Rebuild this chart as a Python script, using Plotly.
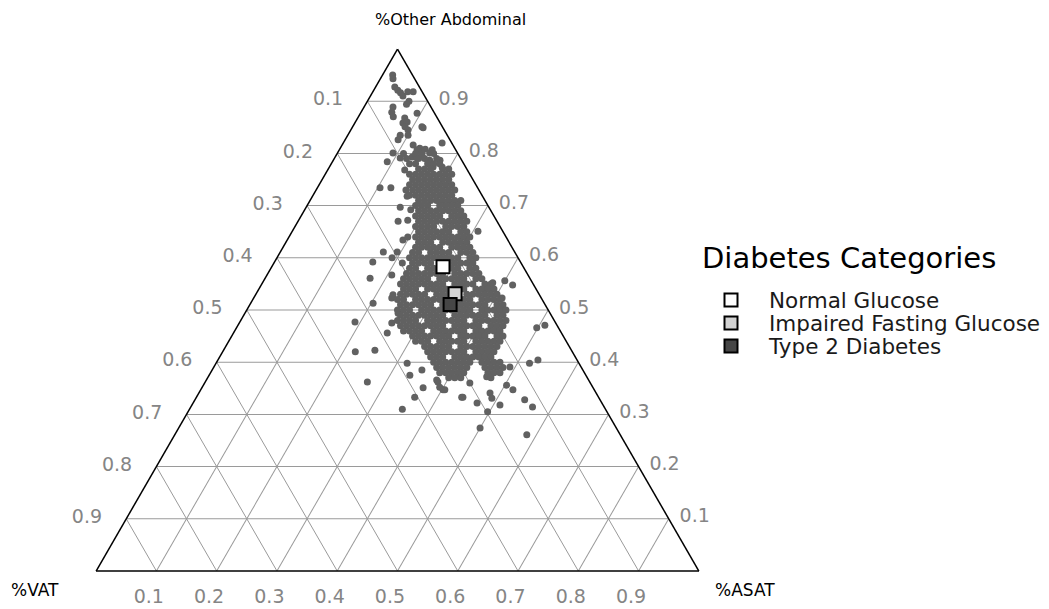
import plotly.graph_objects as go

# ---- individual (scattered) subjects: % Other abdominal, % ASAT ----
scatter_other = [95.0, 94.3, 92.7, 92.1, 91.6, 91.0, 91.8, 91.8, 90.0, 89.4,
                 88.9, 87.9, 87.0, 86.8, 85.8, 86.0, 84.9, 84.5, 83.5, 82.6,
                 81.6, 81.0, 80.7, 80.8, 80.7, 82.0, 80.1, 79.1, 79.3, 79.1,
                 79.7, 78.7, 78.7, 77.4, 77.4, 78.4, 76.8, 87.7, 85.1, 85.1,
                 83.5, 80.1,
                 73.4, 73.4, 73.0, 71.8, 69.7, 69.2, 67.0, 67.2, 63.4, 64.0,
                 61.1, 61.1, 59.2, 60.0, 59.0, 56.1, 56.7, 52.9,
                 52.3, 51.3, 47.7, 45.6, 47.5, 49.4, 42.0, 42.3, 39.8, 37.5,
                 38.5, 36.2, 35.1, 33.3, 36.2, 34.7, 31.0, 33.3,
                 65.1, 55.2, 55.6, 54.8, 52.3, 46.6, 40.4, 39.8, 39.1, 35.6,
                 34.7, 32.8, 31.4, 31.8, 34.1, 33.1, 30.5, 32.2, 33.3, 34.7,
                 36.6, 35.2, 27.4, 26.1, 36.0, 37.2, 47.1]
scatter_asat = [1.7, 2.1, 3.2, 4.0, 4.7, 5.4, 5.8, 6.7, 6.9, 6.8,
                4.8, 5.1, 5.8, 7.8, 8.0, 8.6, 11.8, 9.5, 8.7, 8.8,
                11.8, 13.2, 12.9, 14.2, 15.4, 16.4, 9.2, 10.9, 12.8, 13.7,
                14.2, 16.0, 17.7, 17.2, 18.7, 9.1, 12.8, 9.4, 11.5, 8.7,
                10.0, 15.3,
                10.4, 12.2, 14.9, 15.7, 15.6, 17.6, 16.6, 18.1, 19.2, 19.7,
                17.1, 19.4, 16.3, 19.1, 21.3, 17.4, 20.7, 22.8,
                22.9, 20.3, 19.1, 25.5, 25.3, 25.4, 22.0, 25.1, 31.7, 33.3,
                34.8, 26.9, 36.7, 36.2, 38.6, 40.5, 35.3, 44.0,
                30.8, 38.2, 40.0, 41.7, 41.2, 49.8, 53.1, 52.0, 49.1, 50.3,
                51.8, 54.7, 56.7, 51.1, 48.3, 49.1, 49.7, 47.1, 44.2, 40.2,
                38.2, 39.4, 50.0, 58.4, 44.0, 46.2, 50.9]

# ---- dense core of the cloud: one % Other value per row, with its % ASAT values ----
core_other = [80, 79, 78, 77, 76, 75, 74, 73, 72, 71, 70, 69, 68, 67, 66, 65, 64,
              63, 62, 61, 60, 59, 58, 57, 56, 55, 54, 53, 52, 51, 50, 49, 48, 47,
              46, 45, 44, 43, 42, 41, 40, 39, 38, 37]
core_asat = [
    [11, 13, 14, 16],
    [12, 14, 15, 17],
    [13, 14, 16, 17, 18],
    [15, 16, 17, 19, 20],
    [14, 15, 16, 17, 18, 19, 20, 21],
    [15, 16, 17, 18, 19, 20, 21],
    [15, 16, 17, 18, 19, 20, 21, 22],
    [16, 17, 18, 19, 20, 21, 22, 23],
    [16, 17, 18, 19, 20, 21, 22, 23],
    [18, 19, 20, 21, 22, 23, 24, 25],
    [18, 19, 20, 22, 23, 24, 25],
    [19, 20, 21, 22, 23, 24, 25, 26],
    [19, 20, 21, 22, 23, 25, 26, 27],
    [20, 21, 22, 23, 24, 25, 26, 27, 28],
    [20, 21, 22, 23, 25, 26, 27, 28],
    [21, 22, 23, 24, 25, 26, 28, 29],
    [21, 22, 23, 24, 25, 26, 27, 28, 29, 30],
    [22, 23, 24, 26, 27, 28, 29, 30],
    [22, 23, 24, 25, 26, 28, 29, 30, 31],
    [22, 23, 25, 26, 27, 28, 30, 31, 32],
    [22, 23, 24, 25, 26, 27, 28, 29, 30, 32, 33],
    [23, 24, 25, 26, 28, 29, 30, 31, 32, 33],
    [23, 24, 26, 27, 28, 29, 30, 31, 33, 34],
    [23, 24, 25, 26, 27, 28, 29, 31, 32, 33, 34, 35],
    [23, 24, 25, 26, 27, 29, 30, 31, 32, 33, 35, 36],
    [23, 24, 25, 26, 27, 28, 29, 30, 32, 33, 34, 35, 37, 38],
    [24, 25, 26, 28, 29, 30, 31, 32, 33, 34, 36, 37, 38, 39],
    [24, 25, 26, 27, 28, 30, 31, 32, 33, 35, 36, 37, 38, 39, 40],
    [24, 25, 27, 28, 29, 30, 31, 32, 33, 34, 35, 36, 38, 39, 40, 41],
    [25, 26, 27, 28, 29, 30, 32, 33, 34, 35, 36, 37, 38, 39, 41, 42],
    [25, 26, 27, 29, 30, 31, 32, 33, 34, 35, 36, 37, 39, 40, 41, 42, 43],
    [26, 27, 28, 29, 30, 31, 32, 33, 35, 36, 37, 38, 39, 40, 42, 43],
    [26, 27, 28, 29, 31, 32, 33, 34, 35, 36, 37, 39, 40, 41, 42, 43, 44],
    [27, 28, 29, 30, 31, 32, 33, 34, 36, 37, 38, 39, 40, 42, 43, 44],
    [28, 29, 30, 31, 33, 34, 35, 36, 37, 38, 40, 41, 42, 43, 44],
    [30, 31, 32, 33, 34, 35, 36, 38, 39, 40, 41, 42, 44, 45],
    [31, 32, 33, 35, 36, 37, 38, 39, 41, 42, 43, 44, 45],
    [33, 34, 35, 36, 37, 39, 40, 41, 42, 43, 44, 45],
    [34, 35, 36, 37, 38, 39, 40, 42, 43, 44, 45],
    [35, 36, 37, 39, 40, 41, 42, 43, 44, 45],
    [36, 37, 38, 39, 40, 41, 42, 44, 45, 46, 47],
    [37, 38, 39, 40, 41, 42, 45, 46, 47, 48],
    [38, 39, 40, 41, 42, 46, 47, 48],
    [40, 41, 42, 47],
]

# ---- group means ----
group_names = ["Normal Glucose", "Impaired Fasting Glucose", "Type 2 Diabetes"]
group_other = [58.3, 53.1, 51.05]
group_asat = [28.4, 33.0, 33.2]
group_colors = ["#ffffff", "#d3d3d3", "#464646"]

tick_vals = [10, 20, 30, 40, 50, 60, 70, 80, 90]
tick_text = ["0.9", "0.8", "0.7", "0.6", "0.5", "0.4", "0.3", "0.2", "0.1"]

other = list(scatter_other)
asat = list(scatter_asat)
for o, row in zip(core_other, core_asat):
    for a in row:
        other.append(o)
        asat.append(a)
vat = [100 - o - a for o, a in zip(other, asat)]

FONT = "DejaVu Sans"

fig = go.Figure()
fig.add_trace(go.Scatterternary(
    a=other, b=vat, c=asat, mode="markers",
    marker=dict(size=7, color="#616161", line=dict(width=0)),
    showlegend=False, hoverinfo="skip"))

legend_ids = ["legend", "legend2", "legend3"]
for name, o, a, col, lg in zip(group_names, group_other, group_asat, group_colors, legend_ids):
    fig.add_trace(go.Scatterternary(
        a=[o], b=[100 - o - a], c=[a], mode="markers", name=name,
        marker=dict(symbol="square", size=13, color=col, line=dict(color="black", width=2)),
        legend=lg))


def axis_style(labels, ticklen):
    return dict(
        title=dict(text=""), min=0,
        tickmode="array", tickvals=tick_vals, ticktext=labels,
        ticks="outside", ticklen=ticklen, tickcolor="rgba(0,0,0,0)",
        tickfont=dict(family=FONT, size=19, color="#858585"),
        showgrid=True, gridcolor="#9a9a9a", gridwidth=1,
        showline=True, linecolor="black", linewidth=1.5,
        layer="below traces")


left_labels = [t + "\u00a0\u00a0\u2009" for t in tick_text]
right_labels = ["<br>" + t for t in tick_text]
bottom_labels = [t + "\u00a0\u00a0\u00a0\u00a0" for t in tick_text]

L, R, T, B = 95, 349, 49, 38
PW = 1049 - L - R
PH = 609 - T - B


def px(x):
    return (x - L) / PW


def py(y):
    return (609 - B - y) / PH


legend_common = dict(xanchor="left", yanchor="middle", bgcolor="rgba(0,0,0,0)",
                     font=dict(family=FONT, size=21.5, color="#1a1a1a"), itemwidth=66)
legend_rows = [300, 323, 346]

fig.update_layout(
    width=1049, height=609,
    margin=dict(l=L, r=R, t=T, b=B, pad=0, autoexpand=False),
    paper_bgcolor="white", plot_bgcolor="white",
    ternary=dict(sum=100, bgcolor="white", domain=dict(x=[0, 1], y=[0, 1]),
                 aaxis=axis_style(left_labels, 5),
                 baxis=axis_style(bottom_labels, 9),
                 caxis=axis_style(right_labels, 15)),
    legend=dict(x=px(693), y=py(legend_rows[0]), **legend_common),
    legend2=dict(x=px(693), y=py(legend_rows[1]), **legend_common),
    legend3=dict(x=px(693), y=py(legend_rows[2]), **legend_common),
    annotations=[
        dict(text="%Other Abdominal", x=px(450), y=py(20), xref="paper", yref="paper",
             xanchor="center", yanchor="middle", showarrow=False,
             font=dict(family=FONT, size=16, color="black")),
        dict(text="%VAT", x=px(35), y=py(590), xref="paper", yref="paper",
             xanchor="center", yanchor="middle", showarrow=False,
             font=dict(family=FONT, size=17, color="black")),
        dict(text="%ASAT", x=px(745), y=py(590), xref="paper", yref="paper",
             xanchor="center", yanchor="middle", showarrow=False,
             font=dict(family=FONT, size=17, color="black")),
        dict(text="Diabetes Categories", x=px(700), y=py(258), xref="paper", yref="paper",
             xanchor="left", yanchor="middle", showarrow=False,
             font=dict(family=FONT, size=29, color="black")),
    ],
)

fig.write_html("out.html")
